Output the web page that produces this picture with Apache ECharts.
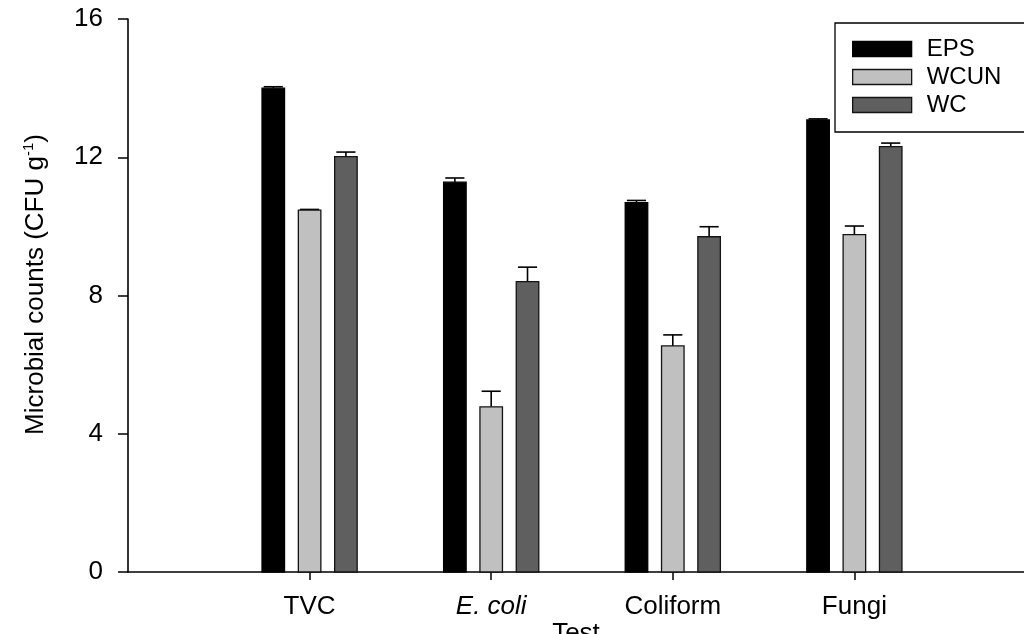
<!DOCTYPE html>
<html><head><meta charset="utf-8">
<script src="https://cdn.jsdelivr.net/npm/echarts@6/dist/echarts.min.js"></script>
<style>html,body{margin:0;padding:0;background:#fff}#c{width:1024px;height:634px}</style>
</head><body><div id="c"></div>
<script>
const categories = ['TVC', 'E. coli', 'Coliform', 'Fungi'];
const seriesNames = ['EPS', 'WCUN', 'WC'];
const epsValues = [14.0, 11.28, 10.69, 13.08];
const epsErrors = [0.04, 0.12, 0.06, 0.03];
const wcunValues = [10.47, 4.78, 6.54, 9.76];
const wcunErrors = [0.02, 0.45, 0.32, 0.25];
const wcValues = [12.02, 8.40, 9.70, 12.31];
const wcErrors = [0.13, 0.42, 0.29, 0.10];
const yTicks = [0, 4, 8, 12, 16];
const xPositions = [1, 2, 3, 4];

const FONT = '"Liberation Sans", Arial, sans-serif';
const chart = echarts.init(document.getElementById('c'), null, {renderer: 'canvas'});

const styles = [
  {color: '#000000', border: '#000000', offset: -1},
  {color: '#c0c0c0', border: '#141414', offset: 0},
  {color: '#5f5f5f', border: '#141414', offset: 1}
];
const valueSets = [epsValues, wcunValues, wcValues];
const errorSets = [epsErrors, wcunErrors, wcErrors];
const BAND_OFFSET = 0.2;
const BAR_W = 0.124;

function makeRender(st) {
  return function (params, api) {
    const x = api.value(0), y = api.value(1), e = api.value(2);
    const unit = api.size([1, 0])[0];
    const base = api.coord([x, 0]);
    const top = api.coord([x, y]);
    const errTop = api.coord([x, y + e]);
    const cx = base[0] + st.offset * BAND_OFFSET * unit;
    const w = BAR_W * unit;
    const capW = w * 0.85;
    return {
      type: 'group',
      children: [
        {type: 'line', shape: {x1: cx, y1: top[1], x2: cx, y2: errTop[1]}, style: {stroke: '#000', lineWidth: 1.6}},
        {type: 'line', shape: {x1: cx - capW / 2, y1: errTop[1], x2: cx + capW / 2, y2: errTop[1]}, style: {stroke: '#000', lineWidth: 1.6}},
        {type: 'rect', shape: {x: cx - w / 2, y: top[1], width: w, height: base[1] - top[1]},
          style: {fill: st.color, stroke: st.border, lineWidth: 1.3}}
      ]
    };
  };
}

const series = seriesNames.map((name, si) => ({
  type: 'custom',
  name: name,
  renderItem: makeRender(styles[si]),
  itemStyle: {color: styles[si].color, borderColor: styles[si].border, borderWidth: 1},
  encode: {x: 0, y: 1},
  data: xPositions.map((xp, i) => [xp, valueSets[si][i], errorSets[si][i]]),
  clip: false
}));

chart.setOption({
  animation: false,
  backgroundColor: '#fff',
  textStyle: {fontFamily: FONT, color: '#000'},
  grid: {left: 128, right: 0, top: 19, bottom: 62, containLabel: false, outerBoundsMode: 'none'},
  legend: {
    orient: 'vertical',
    left: 835, top: 23,
    padding: [14, 60, 15, 17],
    itemWidth: 59, itemHeight: 15, itemGap: 4,
    icon: 'rect',
    borderColor: '#000', borderWidth: 1.3,
    backgroundColor: '#fff',
    textStyle: {fontFamily: FONT, fontSize: 24, color: '#000', padding: [0, 0, 0, 10]},
    data: seriesNames.map((n, si) => ({name: n, itemStyle: {color: styles[si].color, borderColor: styles[si].border, borderWidth: 1.3}}))
  },
  xAxis: {
    type: 'value',
    min: 0, max: 4.934, interval: 1,
    name: 'Test',
    nameLocation: 'middle',
    nameGap: 49,
    nameMoveOverlap: false,
    nameTextStyle: {fontFamily: FONT, fontSize: 26, color: '#000', verticalAlign: 'top'},
    splitLine: {show: false},
    axisLine: {show: true, lineStyle: {color: '#000', width: 1.6}},
    axisTick: {show: true, length: 8, customValues: xPositions, lineStyle: {color: '#000', width: 1.5}},
    axisLabel: {
      customValues: xPositions,
      margin: 22,
      fontFamily: FONT, fontSize: 26, color: '#000',
      formatter: v => {
        const name = categories[Math.round(v) - 1];
        return name === 'E. coli' ? '{i|' + name + '}' : name;
      },
      rich: {i: {fontStyle: 'italic', fontFamily: FONT, fontSize: 26, color: '#000'}}
    }
  },
  yAxis: {
    type: 'value',
    min: 0, max: 16, interval: 4,
    name: 'Microbial counts (CFU g{sup|-1})',
    nameLocation: 'middle',
    nameRotate: 90,
    nameGap: 78,
    nameMoveOverlap: false,
    nameTextStyle: {fontFamily: FONT, fontSize: 26, color: '#000', padding: [0, 0, 0, 22],
      rich: {sup: {fontSize: 15, fontFamily: FONT, color: '#000', padding: [0, 0, 14, 0]}}},
    splitLine: {show: false},
    axisLine: {show: true, lineStyle: {color: '#000', width: 1.6}},
    axisTick: {show: true, length: 10, lineStyle: {color: '#000', width: 1.5}},
    axisLabel: {
      customValues: yTicks,
      margin: 25, fontFamily: FONT, fontSize: 26, color: '#000'
    }
  },
  series: series
});
</script>
</body></html>
